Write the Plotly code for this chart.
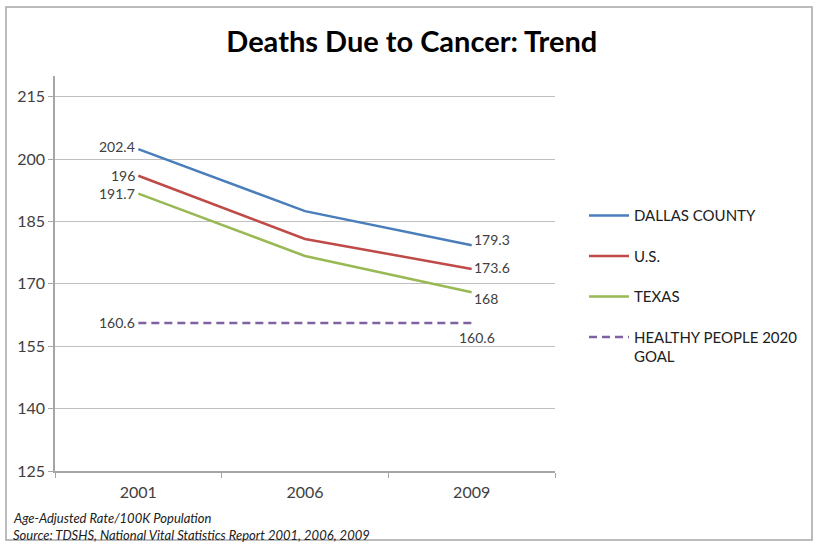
import plotly.graph_objects as go

years = ["2001", "2006", "2009"]
dallas = [202.4, 187.5, 179.3]
us = [196, 180.8, 173.6]
texas = [191.7, 176.7, 168]
goal = [160.6, 160.6, 160.6]
series_names = ["DALLAS COUNTY", "U.S.", "TEXAS", "HEALTHY PEOPLE 2020<br>GOAL"]
y_ticks = [125, 140, 155, 170, 185, 200, 215]

FONT = "Lato"
TXT = "#404040"

fig = go.Figure()
specs = [
    (dallas, "#4a7ebb", "solid", (3, 1, 6)),
    (us, "#be4b48", "solid", (0, 1, 1)),
    (texas, "#98b954", "solid", (0, 1, -6)),
    (goal, "#7e62a1", "8px,5px", (0, None, -15)),
]
first_idx = 0
last_idx = len(years) - 1
for i, (vals, col, dash, shifts) in enumerate(specs):
    fig.add_trace(go.Scatter(
        x=years, y=vals, name=series_names[i], mode="lines",
        line=dict(color=col, width=2.5, dash=dash),
        legendgroup=str(i), cliponaxis=False, hoverinfo="skip",
    ))
    ys_left, _, ys_right = shifts
    # first-point label (left of the line start)
    fig.add_annotation(x=first_idx, y=vals[first_idx], text=str(vals[first_idx]), showarrow=False,
                       xanchor="right", yanchor="middle", xshift=-1, yshift=ys_left,
                       font=dict(family=FONT, size=14, color=TXT))
    # last-point label
    if i == 3:
        fig.add_annotation(x=last_idx, y=vals[last_idx], text=str(vals[last_idx]), showarrow=False,
                           xanchor="center", yanchor="middle", xshift=5, yshift=ys_right,
                           font=dict(family=FONT, size=14, color=TXT))
    else:
        fig.add_annotation(x=last_idx, y=vals[last_idx], text=str(vals[last_idx]), showarrow=False,
                           xanchor="left", yanchor="middle", xshift=0, yshift=ys_right,
                           font=dict(family=FONT, size=14, color=TXT))

fig.update_layout(
    width=817, height=545,
    margin=dict(l=55, r=262, t=76, b=74),
    paper_bgcolor="white", plot_bgcolor="white",
    font=dict(family=FONT, color=TXT),
    title=dict(text="<b>Deaths Due to Cancer: Trend</b>", x=0.504, xanchor="center",
               y=1 - 42 / 545, yanchor="middle", yref="container",
               font=dict(family=FONT, size=29, color="#000000")),
    showlegend=True,
    legend=dict(x=1.058, xanchor="left", y=0.688, yanchor="top", valign="top",
                font=dict(family=FONT, size=15, color="#202020"),
                tracegroupgap=18, itemwidth=40, bgcolor="rgba(0,0,0,0)"),
    xaxis=dict(type="category", range=[-0.5, 2.5], showline=True, linecolor="#a6a6a6",
               linewidth=1.5, ticks="outside", tickson="boundaries", ticklen=5,
               tickcolor="#a6a6a6", showgrid=False, ticklabelstandoff=6,
               tickfont=dict(family=FONT, size=16, color=TXT), fixedrange=True),
    yaxis=dict(range=[125, 220], tickvals=y_ticks, showline=True, linecolor="#a6a6a6",
               linewidth=1.5, ticks="outside", ticklen=5, tickcolor="#a6a6a6",
               showgrid=True, gridcolor="#bfbfbf", gridwidth=1.2,
               tickfont=dict(family=FONT, size=16, color=TXT), zeroline=False),
)

# outer chart frame
fig.add_shape(type="rect", xref="paper", yref="paper",
              x0=(6 - 55) / 500, x1=(812 - 55) / 500,
              y0=(471 - 540) / 395, y1=(471 - 7) / 395,
              line=dict(color="#a6a6a6", width=1.5), layer="below")

fig.add_annotation(xref="paper", yref="paper", x=(11 - 55) / 500, y=(471 - 518) / 395,
                   xanchor="left", yanchor="middle", showarrow=False,
                   text="<i>Age-Adjusted Rate/100K Population</i>",
                   font=dict(family=FONT, size=13, color="#202020"))
fig.add_annotation(xref="paper", yref="paper", x=(11 - 55) / 500, y=(471 - 535) / 395,
                   xanchor="left", yanchor="middle", showarrow=False,
                   text="<i>Source: TDSHS, National Vital Statistics Report 2001, 2006, 2009</i>",
                   font=dict(family=FONT, size=13, color="#202020"))

fig.write_html("out.html", config={"displayModeBar": False},
               post_script="document.body.style.margin='0';document.body.style.overflow='hidden';")
